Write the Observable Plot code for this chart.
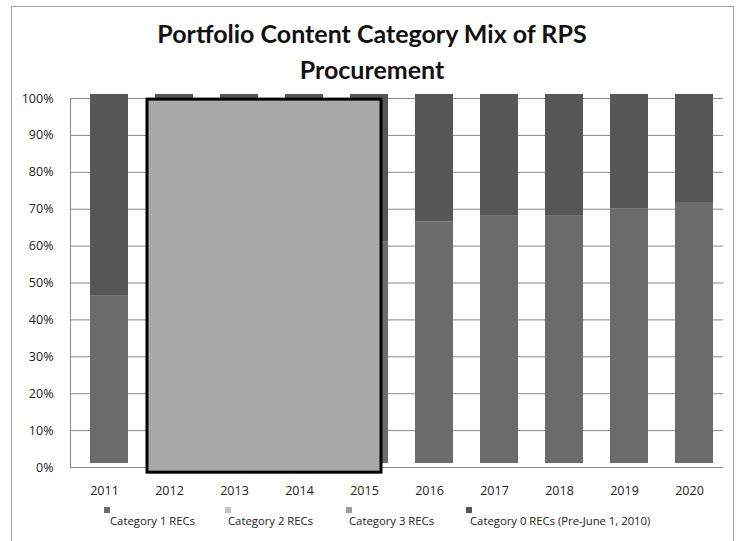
<!DOCTYPE html>
<html>
<head>
<meta charset="utf-8">
<script src="https://cdn.jsdelivr.net/npm/d3@7"></script>
<script src="https://cdn.jsdelivr.net/npm/@observablehq/plot@0.6"></script>
<style>
  html, body { margin: 0; padding: 0; background: #fff; }
  #wrap { position: relative; width: 744px; height: 541px; overflow: hidden; background: #fff; }
  #frame { position: absolute; left: 11px; top: 6px; width: 723px; height: 600px; border: 1.5px solid #a3a3a3; box-sizing: border-box; }
  #title { position: absolute; left: 0; width: 744px; top: 15px; text-align: center; font-family: Lato, "Open Sans", sans-serif; font-weight: bold; font-size: 25px; line-height: 36px; color: #111; }
  #chart { position: absolute; left: 0; top: 0; }
  .leg { position: absolute; font-family: "Open Sans", sans-serif; font-size: 11.3px; color: #222; }
  .sw { position: absolute; width: 6px; height: 6px; }
</style>
</head>
<body>
<div id="wrap">
  <div id="frame"></div>
  <div id="chart"></div>
  <div id="title">Portfolio Content Category Mix of RPS<br>Procurement</div>
  <div id="legend"></div>
</div>
<script>
// ---- data (percent of procurement) ----
const years = ["2011","2012","2013","2014","2015","2016","2017","2018","2019","2020"];
const category1 = [45.5, 50, 52, 56, 60, 65.5, 67, 67, 69, 70.5];
const category2 = [0, 0, 0, 0, 0, 0, 0, 0, 0, 0];
const category3 = [0, 0, 0, 0, 0, 0, 0, 0, 0, 0];
const category0 = [54.5, 50, 48, 44, 40, 34.5, 33, 33, 31, 29.5];
const seriesNames = ["Category 1 RECs", "Category 2 RECs", "Category 3 RECs", "Category 0 RECs (Pre-June 1, 2010)"];
const seriesColors = ["#6b6b6b", "#c4c4c4", "#9b9b9b", "#565656"];
const yTicks = [0, 10, 20, 30, 40, 50, 60, 70, 80, 90, 100];
// highlighted box drawn over 2012-2015
const boxFrom = ["2012"];
const boxTo = ["2015"];
const boxBottom = [-1.4];
const boxTop = [99.7];

const seriesValues = [category1, category2, category3, category0];
const rows = [];
seriesNames.forEach((name, s) => {
  years.forEach((yr, i) => rows.push({year: yr, series: name, value: seriesValues[s][i]}));
});
const box = boxFrom.map((f, i) => ({from: f, to: boxTo[i], bottom: boxBottom[i], top: boxTop[i]}));

const chart = Plot.plot({
  width: 744,
  height: 541,
  marginLeft: 70,
  marginRight: 21,
  marginTop: 98,
  marginBottom: 74,
  style: {fontFamily: "'Open Sans', sans-serif", fontSize: "12.5px", color: "#222", background: "transparent"},
  x: {domain: years, paddingInner: 0.42, paddingOuter: 0.21, label: null},
  y: {domain: [0, 100], label: null},
  color: {domain: seriesNames, range: seriesColors},
  marks: [
    Plot.gridY(yTicks, {stroke: "#8a8a8a", strokeOpacity: 1, strokeWidth: 1}),
    Plot.frame({anchor: "left", stroke: "#8a8a8a"}),
    Plot.barY(rows, {x: "year", y: "value", fill: "series", order: seriesNames, dx: 5, dy: -4}),
    Plot.rect(box, {x1: "from", x2: "to", y1: "bottom", y2: "top", fill: "#a9a9a9", stroke: "#000", strokeWidth: 3, insetLeft: -3, insetRight: 2}),
    Plot.axisY({ticks: yTicks, tickSize: 0, tickPadding: 17, tickFormat: d => d + "%", label: null}),
    Plot.axisX({tickSize: 0, tickPadding: 19, label: null})
  ]
});
document.getElementById("chart").appendChild(chart);

// legend
const legendSwatchX = [104, 225, 346, 466];
const legendTextX = [110, 228, 349, 470];
const legend = d3.select("#legend");
seriesNames.forEach((name, i) => {
  legend.append("div").attr("class", "sw")
    .style("left", legendSwatchX[i] + "px").style("top", "507px")
    .style("background", seriesColors[i]);
  legend.append("div").attr("class", "leg")
    .style("left", legendTextX[i] + "px").style("top", "513px")
    .text(name);
});
</script>
</body>
</html>
